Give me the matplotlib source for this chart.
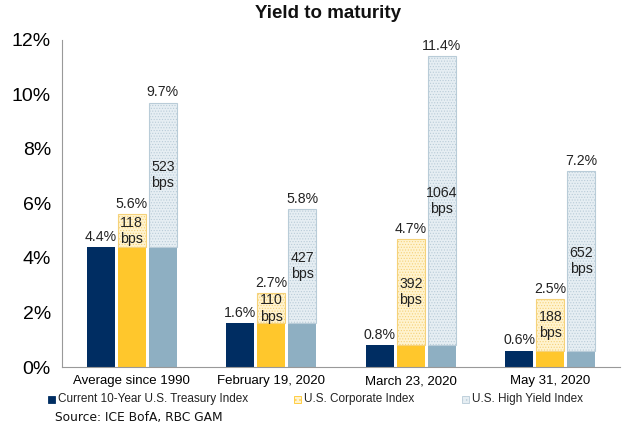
import matplotlib
matplotlib.use("Agg")
import matplotlib.pyplot as plt
from matplotlib.patches import Rectangle
import numpy as np

categories = ["Average since 1990", "February 19, 2020", "March 23, 2020", "May 31, 2020"]
treasury = [4.4, 1.6, 0.8, 0.6]
corporate = [5.6, 2.7, 4.7, 2.5]
high_yield = [9.7, 5.8, 11.4, 7.2]
corp_spread_bps = [118, 110, 392, 188]
hy_spread_bps = [523, 427, 1064, 652]
series_names = ["Current 10-Year U.S. Treasury Index", "U.S. Corporate Index", "U.S. High Yield Index"]

navy = "#002D62"
yellow = "#FFC72C"
yellow_light = "#FFF3CF"
yellow_edge = "#F5D27A"
blue = "#8EAFC2"
blue_light = "#E6EEF3"
blue_edge = "#B9CCD8"

plt.rcParams["font.family"] = ["Liberation Sans", "DejaVu Sans"]
plt.rcParams["hatch.linewidth"] = 0.5

W, H = 629, 430
fig = plt.figure(figsize=(W / 100, H / 100), dpi=100)
ax = fig.add_axes([0.0986, 0.1465, 0.8874, 0.7605])

x = np.arange(len(categories))
w = 0.2
off = 0.222

ax.bar(x - off, treasury, w, color=navy, zorder=2)
ax.bar(x, treasury, w, color=yellow, zorder=2)
spread_c = np.array(corporate) - np.array(treasury)
ax.bar(x, spread_c, w, bottom=treasury, color=yellow_light, edgecolor=yellow_edge,
       hatch="......", linewidth=0.8, zorder=2)
ax.bar(x + off, treasury, w, color=blue, zorder=2)
spread_h = np.array(high_yield) - np.array(treasury)
ax.bar(x + off, spread_h, w, bottom=treasury, color=blue_light, edgecolor=blue_edge,
       hatch="......", linewidth=0.8, zorder=2)

fs = 10.2
tc = "#222222"
for i in range(len(categories)):
    ax.text(x[i] - off, treasury[i] + 0.12, f"{treasury[i]:.1f}%", ha="center", va="bottom", fontsize=fs, color=tc)
    ax.text(x[i], corporate[i] + 0.12, f"{corporate[i]:.1f}%", ha="center", va="bottom", fontsize=fs, color=tc)
    ax.text(x[i] + off, high_yield[i] + 0.12, f"{high_yield[i]:.1f}%", ha="center", va="bottom", fontsize=fs, color=tc)
    ax.text(x[i], (treasury[i] + corporate[i]) / 2, f"{corp_spread_bps[i]}\nbps", ha="center", va="center",
            fontsize=fs, color=tc, linespacing=1.2)
    ax.text(x[i] + off, (treasury[i] + high_yield[i]) / 2, f"{hy_spread_bps[i]}\nbps", ha="center", va="center",
            fontsize=fs, color=tc, linespacing=1.2)

ax.set_xlim(-0.5, 3.5)
ax.set_ylim(0, 12)
ax.set_yticks(np.arange(0, 13, 2))
ax.set_yticklabels([f"{v}%" for v in range(0, 13, 2)], fontsize=14)
ax.set_xticks(x)
ax.set_xticklabels(categories, fontsize=9.5)
ax.tick_params(axis="x", length=0, pad=6)
ax.tick_params(axis="y", length=0, pad=8)
for s in ["top", "right"]:
    ax.spines[s].set_visible(False)
ax.spines["left"].set_color("#999999")
ax.spines["bottom"].set_color("#999999")

fig.text(328 / W, 1 - 14 / H, "Yield to maturity", fontsize=13.5, fontweight="bold", ha="center", va="center",
         color="#111111")

# Legend (manual placement like Excel legend slots)
leg_y = 399
leg_items = [(48, navy, None, navy), (294, yellow_light, "....", yellow), (462, blue_light, "....", blue_edge)]
for (lx, fc, hatch, ec), name in zip(leg_items, series_names):
    fig.patches.append(Rectangle((lx / W, 1 - (leg_y + 3.5) / H), 7 / W, 7 / H, transform=fig.transFigure,
                                 facecolor=fc, edgecolor=ec, hatch=hatch, linewidth=0.6))
    fig.text((lx + 10) / W, 1 - leg_y / H, name, fontsize=8.5, va="center", ha="left", color=tc)

fig.text(55 / W, 1 - 418 / H, "Source: ICE BofA, RBC GAM", fontsize=8.8, family="DejaVu Sans", color="#111111",
         va="center")

fig.savefig("out.png", dpi=100)
